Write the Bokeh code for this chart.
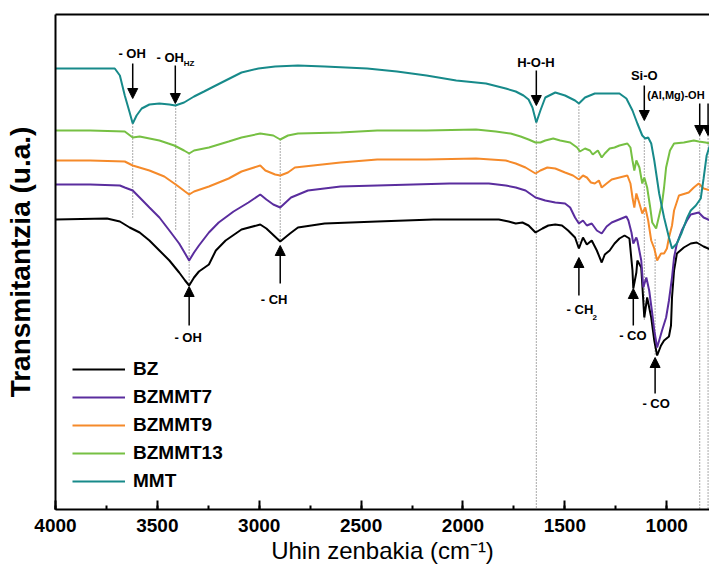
from bokeh.plotting import figure
from bokeh.models import (Range1d, LinearAxis, FixedTicker, SingleIntervalTicker,
                          Legend, LegendItem, Arrow, NormalHead, ColumnDataSource)
from bokeh.core.properties import value
from bokeh.embed import file_html
from bokeh.resources import INLINE

# ---------------- data (wavenumber cm-1, transmittance a.u. with offsets) -------------
bz_wn = [4000,3747,3684,3636,3587,3539,3490,3441,3393,3364,3344,3320,3296,3247,3213,3165,3087,2995,2965,2897,
         2849,2810,2679,2421,2145,1824,1776,1741,1708,1678,1644,1610,1581,1547,1514,1484,1450,1431,1411,1392,
         1368,1343,1319,1304,1280,1256,1232,1207,1183,1168,1164,1149,1144,1125,1110,1096,1076,1061,1047,1028,
         1013,989,979,974,964,950,916,882,853,819,785]
bz_t = [290,291,288,282,277,269,259,249,237,229,224,232,238,245,259,269,280,285,281,268,
        276,282,286,288,290,290,288,286,287,284,277,281,284,285,284,279,272,261,272,265,
        269,259,247,255,259,266,271,274,271,239,221,237,249,242,192,212,192,169,154,164,
        169,173,184,212,239,256,262,266,267,263,260]

bzmmt7_wn = [4000,3830,3684,3660,3621,3587,3539,3490,3441,3393,3364,3344,3320,3296,3247,3199,3126,3053,2995,2965,
             2931,2897,2844,2761,2601,2421,2067,1873,1790,1741,1693,1644,1596,1547,1499,1474,1450,1431,1411,1392,
             1368,1343,1319,1295,1270,1222,1198,1188,1173,1164,1149,1144,1125,1115,1100,1086,1071,1061,1047,1037,
             1023,1003,989,974,964,950,926,901,882,843,819,785]
bzmmt7_t = [325,325,324,322,319,312,302,292,279,266,256,249,257,264,277,287,298,307,315,310,
            305,302,312,319,323,324,326,326,324,322,319,312,309,307,306,302,292,286,289,284,
            286,279,276,283,287,291,293,289,277,266,272,269,249,222,232,219,196,179,162,169,
            179,192,209,232,252,266,279,289,295,297,292,289]

bzmmt9_wn = [4000,3830,3660,3621,3539,3466,3403,3364,3344,3320,3247,3150,3087,2995,2970,2922,2897,2859,2825,2601,
             2421,2179,1936,1790,1741,1693,1644,1620,1586,1547,1499,1460,1431,1411,1392,1372,1353,1333,1319,1295,
             1270,1232,1193,1178,1168,1159,1149,1134,1120,1105,1091,1076,1061,1047,1028,1013,999,989,974,964,
             940,892,867,843,819,785]
bzmmt9_t = [349,349,348,344,339,333,324,318,315,318,323,331,338,344,339,335,334,337,342,347,
            350,350,351,349,346,342,336,339,342,341,337,334,330,334,332,327,326,329,322,326,
            330,332,334,326,312,302,316,306,296,302,289,269,261,249,256,256,261,272,284,299,
            314,317,322,326,321,319]

bzmmt13_wn = [4000,3830,3660,3621,3587,3490,3417,3369,3344,3320,3247,3150,3087,2995,2931,2897,2859,2810,2601,2421,
              2179,1936,1839,1766,1717,1678,1644,1620,1596,1557,1523,1474,1440,1426,1401,1377,1363,1338,1319,1304,
              1280,1256,1232,1193,1178,1168,1159,1149,1134,1120,1110,1096,1081,1071,1052,1037,1023,1013,1003,984,
              964,916,867,843,809,785]
bzmmt13_t = [379,379,378,372,373,369,364,359,356,359,362,368,372,376,374,370,374,376,377,379,
             379,380,378,376,373,370,367,367,369,371,369,367,362,358,361,359,355,359,352,356,
             361,362,364,366,362,349,339,349,342,326,332,322,302,287,281,294,306,322,342,359,
             366,367,369,368,367,366]

mmt_wn = [4000,3879,3709,3684,3660,3636,3621,3602,3577,3539,3490,3441,3412,3369,3320,3271,3223,3165,3087,3004,
          2922,2810,2679,2470,2324,2179,2033,1887,1790,1741,1703,1678,1659,1640,1620,1596,1547,1499,1450,1431,
          1401,1353,1280,1232,1198,1168,1144,1120,1105,1091,1076,1061,1037,1013,989,974,950,926,901,882,
          857,833,819,804,785]
mmt_t = [441,441,441,434,414,397,386,394,401,405,406,405,404,407,413,418,423,429,437,441,
         443,444,443,441,438,434,429,426,421,418,414,410,402,387,399,412,417,414,409,406,
         412,416,416,416,411,399,386,374,371,372,366,349,316,292,272,261,266,277,291,299,
         304,311,331,354,366]

series_names = ["BZ", "BZMMT7", "BZMMT9", "BZMMT13", "MMT"]
series_colors = ["#000000", "#5a2d9e", "#f58a2a", "#76c043", "#178a8a"]

# band assignments: labels, arrows, dotted guide lines
lab_text = ["- OH", "- OH", "- OH", "- CH", "H-O-H", "- CH", "- CO", "- CO", "Si-O"]
lab_x = [3624, 3437, 3349, 2927, 1642, 1426, 1166, 1052, 1110]
lab_y = [456, 452, 172, 210, 447, 200, 174, 106, 434]
sub_text = ["HZ", "2"]
sub_x = [3344, 1353]
sub_y = [446, 192]
side_text = ["(Al,Mg)-OH"]
side_x = [1096]
side_y = [415]

arr_x = [3621, 3412, 3344, 2897, 1640, 1431, 1164, 1057, 1110, 838, 797]
arr_y0 = [446, 444, 184, 226, 439, 214, 184, 116, 424, 406, 406]
arr_y1 = [411, 406, 223, 264, 404, 252, 221, 152, 389, 374, 374]

dot_x = [3621, 3410, 3344, 2897, 1640, 1431, 1110, 1057, 838, 797]
dot_top = [386, 404, 356, 370, 387, 406, 371, 270, 374, 374]
dot_bot = [291, 279, 224, 268, 0, 259, 189, 154, 0, 0]

x_ticks_interval = 500

# ---------------- figure -------------
FONT = "Liberation Sans"

p = figure(width=709, height=568, output_backend="svg", toolbar_location=None,
           x_range=Range1d(4000, 790), y_range=Range1d(0, 495),
           min_border_left=55, min_border_right=0, min_border_top=14, min_border_bottom=59)
p.outline_line_color = None
p.xgrid.visible = False
p.ygrid.visible = False

xa = p.xaxis[0]
xa.ticker = SingleIntervalTicker(interval=x_ticks_interval, num_minor_ticks=2)
xa.axis_line_width = 2
xa.major_tick_in = 9
xa.major_tick_out = 0
xa.minor_tick_in = 4
xa.minor_tick_out = 0
xa.major_tick_line_width = 2
xa.minor_tick_line_width = 2
xa.major_label_text_font = FONT
xa.major_label_text_font_size = "19px"
xa.major_label_text_font_style = "bold"
xa.major_label_text_color = "black"
xa.major_label_standoff = 9
xa.axis_label = "Uhin zenbakia (cm\u207b\u00b9)"
xa.axis_label_text_font = FONT
xa.axis_label_text_font_size = "24px"
xa.axis_label_text_font_style = "normal"
xa.axis_label_text_color = "black"
xa.axis_label_standoff = 2

ya = p.yaxis[0]
ya.ticker = FixedTicker(ticks=[])
ya.axis_line_width = 2
ya.major_tick_in = 0
ya.major_tick_out = 0
ya.minor_tick_in = 0
ya.minor_tick_out = 0
ya.major_label_standoff = 0
ya.axis_label = "Transmitantzia (u.a.)"
ya.axis_label_text_font = FONT
ya.axis_label_text_font_size = "28px"
ya.axis_label_text_font_style = "bold"
ya.axis_label_text_color = "black"
ya.axis_label_standoff = 20

top = LinearAxis(ticker=FixedTicker(ticks=[]), axis_line_width=2, major_tick_in=0, major_tick_out=0,
                 minor_tick_in=0, minor_tick_out=0, major_label_standoff=0,
                 major_label_text_font_size="0px")
p.add_layout(top, "above")

# dotted guides
p.segment(x0=dot_x, y0=dot_top, x1=dot_x, y1=dot_bot, line_color="#555555",
          line_width=1, line_dash="1 2")

series = [(bz_wn, bz_t), (bzmmt7_wn, bzmmt7_t), (bzmmt9_wn, bzmmt9_t),
          (bzmmt13_wn, bzmmt13_t), (mmt_wn, mmt_t)]
renderers = []
for (wn, t), name, col in zip(series, series_names, series_colors):
    r = p.line(wn, t, line_color=col, line_width=2)
    renderers.append(r)

legend = Legend(items=[LegendItem(label=n, renderers=[r]) for n, r in zip(series_names, renderers)],
                location=(17, 14), padding=0, margin=0, spacing=0,
                glyph_width=53, glyph_height=28, label_height=28, label_standoff=8,
                label_text_font=FONT, label_text_font_style="bold", label_text_font_size="19px",
                label_text_color="black", border_line_color=None, background_fill_alpha=0)
p.add_layout(legend)

arrow_src = ColumnDataSource(dict(x0=arr_x, y0=arr_y0, x1=arr_x, y1=arr_y1))
p.add_layout(Arrow(end=NormalHead(size=10, fill_color="black", line_color="black", line_width=1),
                   x_start="x0", y_start="y0", x_end="x1", y_end="y1", source=arrow_src,
                   line_width=1.5, line_color="black"))

p.text(x=lab_x, y=lab_y, text=lab_text, text_font=value(FONT), text_font_style="bold",
       text_font_size="13px", text_align="center", text_baseline="middle", text_color="black")
p.text(x=sub_x, y=sub_y, text=sub_text, text_font=value(FONT), text_font_style="bold",
       text_font_size="8px", text_align="center", text_baseline="middle", text_color="black")
p.text(x=side_x, y=side_y, text=side_text, text_font=value(FONT), text_font_style="bold",
       text_font_size="11px", text_align="left", text_baseline="middle", text_color="black")

open("out.html", "w").write(file_html(p, INLINE))
